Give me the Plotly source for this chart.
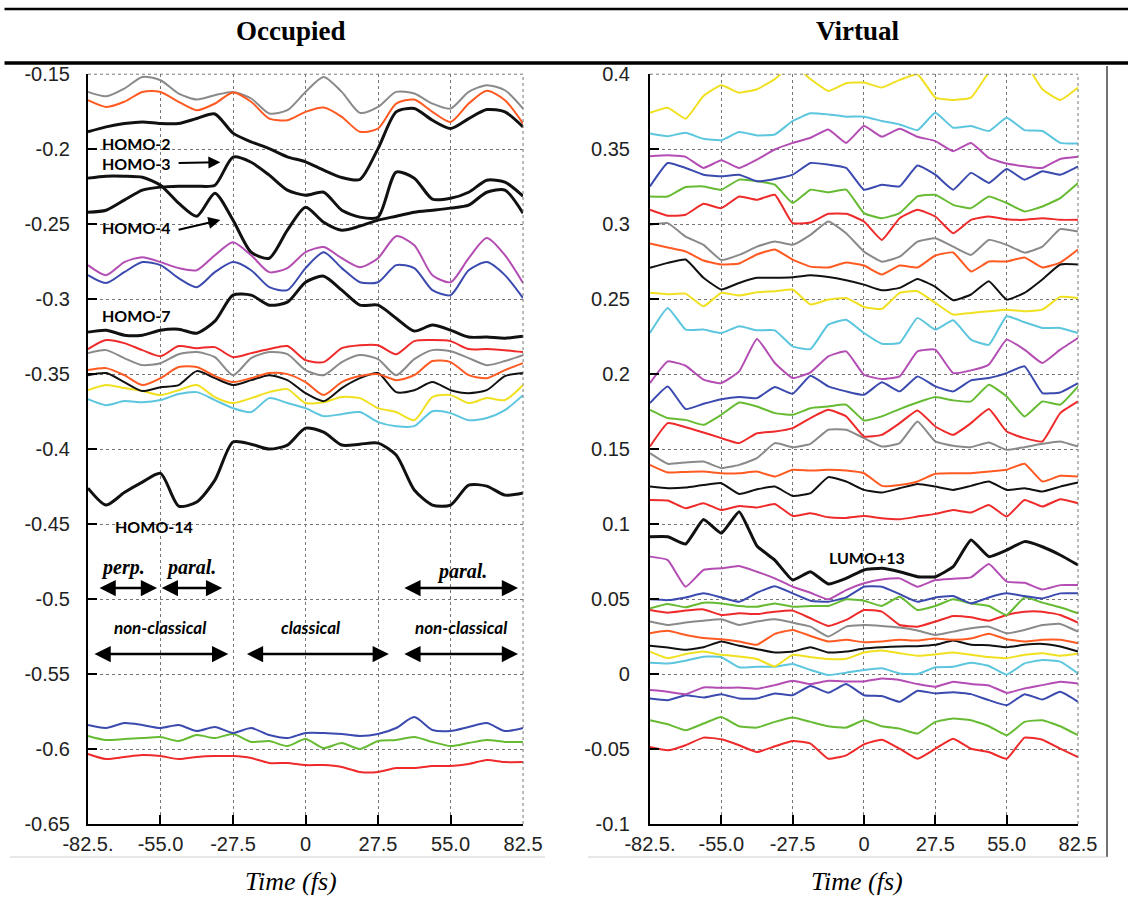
import plotly.graph_objects as go

# ---------------- data ----------------
TIME = [-82.5, -75.625, -68.75, -61.875, -55.0, -48.125, -41.25, -34.375, -27.5, -20.625,
        -13.75, -6.875, 0.0, 6.875, 13.75, 20.625, 27.5, 34.375, 41.25, 48.125,
        55.0, 61.875, 68.75, 75.625, 82.5]
X_TICKVALS = [-82.5, -55.0, -27.5, 0, 27.5, 55.0, 82.5]
X_TICKTEXT = ["-82.5.", "-55.0", "-27.5", "0", "27.5", "55.0", "82.5"]
OCC_TICKVALS = [-0.65, -0.6, -0.55, -0.5, -0.45, -0.4, -0.35, -0.3, -0.25, -0.2, -0.15]
OCC_TICKTEXT = ["-0.65", "-0.6", "-0.55", "-0.5", "-0.45", "-0.4", "-0.35", "-0.3", "-0.25", "-0.2", "-0.15"]
VIR_TICKVALS = [-0.1, -0.05, 0, 0.05, 0.1, 0.15, 0.2, 0.25, 0.3, 0.35, 0.4]
VIR_TICKTEXT = ["-0.1", "-0.05", "0", "0.05", "0.1", "0.15", "0.2", "0.25", "0.3", "0.35", "0.4"]

# Occupied orbitals (hartree)
occ_gray = [-0.1618,-0.1647,-0.1596,-0.1518,-0.1540,-0.1629,-0.1669,-0.1640,-0.1618,-0.1662,-0.1762,-0.1740,-0.1618,-0.1518,-0.1618,-0.1758,-0.1718,-0.1618,-0.1629,-0.1696,-0.1729,-0.1618,-0.1573,-0.1607,-0.1729]
occ_orange_top = [-0.1673,-0.1718,-0.1684,-0.1618,-0.1618,-0.1684,-0.1740,-0.1696,-0.1622,-0.1684,-0.1796,-0.1807,-0.1751,-0.1722,-0.1784,-0.1884,-0.1862,-0.1696,-0.1669,-0.1751,-0.1818,-0.1696,-0.1611,-0.1673,-0.1829]
homo2 = [-0.1884,-0.1851,-0.1829,-0.1818,-0.1829,-0.1829,-0.1795,-0.1765,-0.1893,-0.1951,-0.1996,-0.2051,-0.2084,-0.2140,-0.2189,-0.2202,-0.1996,-0.1751,-0.1729,-0.1807,-0.1862,-0.1796,-0.1736,-0.1751,-0.1851]
homo3 = [-0.2420,-0.2407,-0.2340,-0.2273,-0.2253,-0.2247,-0.2247,-0.2240,-0.2053,-0.2087,-0.2173,-0.2273,-0.2307,-0.2287,-0.2407,-0.2453,-0.2453,-0.2153,-0.2193,-0.2333,-0.2327,-0.2287,-0.2207,-0.2220,-0.2313]
homo4 = [-0.2193,-0.2180,-0.2180,-0.2187,-0.2240,-0.2360,-0.2447,-0.2293,-0.2473,-0.2687,-0.2727,-0.2540,-0.2387,-0.2487,-0.2540,-0.2513,-0.2473,-0.2447,-0.2420,-0.2407,-0.2393,-0.2373,-0.2287,-0.2273,-0.2427]
occ_magenta = [-0.2773,-0.2840,-0.2753,-0.2720,-0.2753,-0.2793,-0.2807,-0.2707,-0.2620,-0.2707,-0.2820,-0.2793,-0.2687,-0.2653,-0.2727,-0.2787,-0.2727,-0.2580,-0.2640,-0.2840,-0.2887,-0.2727,-0.2593,-0.2707,-0.2893]
occ_blue = [-0.2840,-0.2893,-0.2820,-0.2753,-0.2773,-0.2860,-0.2920,-0.2820,-0.2753,-0.2807,-0.2920,-0.2940,-0.2793,-0.2687,-0.2793,-0.2887,-0.2887,-0.2773,-0.2793,-0.2940,-0.2973,-0.2807,-0.2753,-0.2840,-0.2993]
homo7 = [-0.3220,-0.3207,-0.3240,-0.3240,-0.3207,-0.3200,-0.3227,-0.3147,-0.2973,-0.2973,-0.3040,-0.3020,-0.2887,-0.2847,-0.2940,-0.3040,-0.3040,-0.3127,-0.3213,-0.3173,-0.3207,-0.3253,-0.3253,-0.3260,-0.3247]
occ_red = [-0.3333,-0.3273,-0.3293,-0.3340,-0.3380,-0.3313,-0.3327,-0.3320,-0.3387,-0.3360,-0.3333,-0.3313,-0.3407,-0.3420,-0.3327,-0.3307,-0.3307,-0.3367,-0.3280,-0.3273,-0.3280,-0.3333,-0.3333,-0.3340,-0.3353]
occ_gray2 = [-0.3360,-0.3340,-0.3393,-0.3440,-0.3427,-0.3367,-0.3353,-0.3387,-0.3507,-0.3393,-0.3353,-0.3367,-0.3473,-0.3507,-0.3420,-0.3373,-0.3400,-0.3507,-0.3400,-0.3340,-0.3347,-0.3393,-0.3440,-0.3413,-0.3373]
occ_orange = [-0.3473,-0.3460,-0.3507,-0.3573,-0.3527,-0.3453,-0.3453,-0.3513,-0.3553,-0.3527,-0.3493,-0.3500,-0.3553,-0.3640,-0.3553,-0.3513,-0.3500,-0.3540,-0.3507,-0.3413,-0.3420,-0.3507,-0.3527,-0.3473,-0.3427]
occ_black = [-0.3507,-0.3493,-0.3553,-0.3613,-0.3587,-0.3573,-0.3480,-0.3527,-0.3573,-0.3540,-0.3507,-0.3540,-0.3627,-0.3680,-0.3593,-0.3527,-0.3493,-0.3620,-0.3607,-0.3553,-0.3607,-0.3627,-0.3607,-0.3513,-0.3493]
occ_yellow = [-0.3607,-0.3573,-0.3593,-0.3613,-0.3640,-0.3607,-0.3573,-0.3653,-0.3693,-0.3660,-0.3620,-0.3600,-0.3693,-0.3687,-0.3653,-0.3660,-0.3727,-0.3753,-0.3807,-0.3653,-0.3640,-0.3693,-0.3660,-0.3673,-0.3573]
occ_cyan = [-0.3667,-0.3707,-0.3680,-0.3687,-0.3673,-0.3633,-0.3620,-0.3673,-0.3727,-0.3753,-0.3660,-0.3693,-0.3727,-0.3780,-0.3767,-0.3753,-0.3820,-0.3847,-0.3847,-0.3747,-0.3760,-0.3807,-0.3793,-0.3740,-0.3640]
homo14 = [-0.4260,-0.4373,-0.4290,-0.4220,-0.4162,-0.4380,-0.4353,-0.4207,-0.3953,-0.3967,-0.4000,-0.3973,-0.3860,-0.3887,-0.3973,-0.3967,-0.3960,-0.4040,-0.4273,-0.4373,-0.4373,-0.4240,-0.4247,-0.4307,-0.4293]
occ_blue_low = [-0.5840,-0.5860,-0.5827,-0.5840,-0.5860,-0.5840,-0.5880,-0.5853,-0.5893,-0.5860,-0.5907,-0.5927,-0.5893,-0.5893,-0.5900,-0.5913,-0.5900,-0.5860,-0.5787,-0.5873,-0.5880,-0.5853,-0.5827,-0.5880,-0.5860]
occ_green_low = [-0.5913,-0.5940,-0.5933,-0.5927,-0.5920,-0.5947,-0.5907,-0.5927,-0.5900,-0.5953,-0.5947,-0.5980,-0.5933,-0.5993,-0.5960,-0.6000,-0.5947,-0.5940,-0.5920,-0.5953,-0.5980,-0.5960,-0.5940,-0.5953,-0.5953]
occ_red_low = [-0.6033,-0.6067,-0.6053,-0.6040,-0.6047,-0.6067,-0.6053,-0.6047,-0.6047,-0.6060,-0.6093,-0.6093,-0.6107,-0.6107,-0.6120,-0.6153,-0.6153,-0.6127,-0.6127,-0.6113,-0.6113,-0.6100,-0.6073,-0.6087,-0.6087]

# Virtual orbitals (hartree)
vir_yellow_top = [0.3743,0.3777,0.3703,0.3855,0.3926,0.3877,0.3900,0.3967,0.4067,0.3967,0.3888,0.3940,0.3944,0.3911,0.3962,0.4000,0.3844,0.3828,0.3844,0.4011,0.4100,0.4078,0.3900,0.3828,0.3911]
vir_cyan_top = [0.3605,0.3587,0.3609,0.3569,0.3560,0.3614,0.3592,0.3598,0.3688,0.3739,0.3732,0.3717,0.3717,0.3688,0.3665,0.3627,0.3743,0.3643,0.3654,0.3621,0.3710,0.3627,0.3621,0.3542,0.3538]
vir_magenta_top = [0.3453,0.3460,0.3449,0.3375,0.3426,0.3375,0.3431,0.3498,0.3542,0.3576,0.3632,0.3542,0.3654,0.3583,0.3636,0.3583,0.3554,0.3487,0.3542,0.3442,0.3404,0.3386,0.3375,0.3435,0.3449]
vir_blue_top = [0.3252,0.3408,0.3375,0.3330,0.3319,0.3330,0.3286,0.3301,0.3330,0.3408,0.3397,0.3375,0.3230,0.3263,0.3252,0.3391,0.3330,0.3230,0.3342,0.3275,0.3368,0.3297,0.3353,0.3330,0.3386]
vir_green_top = [0.3185,0.3185,0.3248,0.3252,0.3230,0.3297,0.3286,0.3263,0.3141,0.3230,0.3212,0.3230,0.3074,0.3040,0.3074,0.3185,0.3196,0.3129,0.3107,0.3185,0.3141,0.3085,0.3118,0.3174,0.3275]
vir_red_top = [0.3096,0.3056,0.3063,0.3136,0.3107,0.3185,0.3163,0.3196,0.3007,0.3011,0.3069,0.3069,0.3018,0.2895,0.3040,0.3096,0.3051,0.2940,0.3029,0.3051,0.3033,0.3029,0.3040,0.3029,0.3029]
vir_gray_top = [0.2996,0.3007,0.2917,0.2862,0.2761,0.2795,0.2850,0.2884,0.2862,0.2929,0.3018,0.2940,0.2817,0.2750,0.2783,0.2884,0.2906,0.2850,0.2795,0.2895,0.2862,0.2810,0.2850,0.2967,0.2951]
vir_orange_top = [0.2871,0.2844,0.2818,0.2758,0.2731,0.2738,0.2798,0.2831,0.2764,0.2717,0.2711,0.2744,0.2724,0.2664,0.2724,0.2711,0.2791,0.2811,0.2684,0.2751,0.2751,0.2778,0.2711,0.2744,0.2831]
vir_black_top = [0.2709,0.2742,0.2764,0.2642,0.2564,0.2608,0.2642,0.2642,0.2646,0.2660,0.2648,0.2626,0.2597,0.2559,0.2575,0.2635,0.2582,0.2493,0.2531,0.2620,0.2497,0.2542,0.2631,0.2731,0.2731]
vir_yellow_mid = [0.2542,0.2533,0.2537,0.2452,0.2542,0.2524,0.2546,0.2553,0.2564,0.2464,0.2497,0.2508,0.2448,0.2435,0.2542,0.2553,0.2475,0.2397,0.2408,0.2419,0.2430,0.2419,0.2430,0.2515,0.2508]
vir_cyan_mid = [0.2274,0.2441,0.2297,0.2297,0.2274,0.2319,0.2292,0.2292,0.2185,0.2167,0.2330,0.2363,0.2274,0.2203,0.2208,0.2375,0.2297,0.2359,0.2230,0.2196,0.2386,0.2346,0.2308,0.2308,0.2274]
vir_magenta_mid = [0.1940,0.2085,0.2056,0.1963,0.1940,0.2018,0.2234,0.2074,0.1974,0.2012,0.2118,0.2152,0.1996,0.1967,0.1985,0.2152,0.2163,0.2007,0.2025,0.2063,0.2230,0.2163,0.2074,0.2163,0.2241]
vir_blue_mid = [0.1807,0.1918,0.1767,0.1802,0.1833,0.1847,0.1840,0.1914,0.1869,0.1989,0.1918,0.1885,0.1862,0.1945,0.1885,0.1985,0.1918,0.1885,0.1958,0.1974,0.2007,0.2052,0.1874,0.1878,0.1940]
vir_green_mid = [0.1762,0.1707,0.1695,0.1662,0.1729,0.1811,0.1784,0.1740,0.1729,0.1773,0.1784,0.1796,0.1691,0.1718,0.1767,0.1811,0.1847,0.1825,0.1818,0.1929,0.1851,0.1718,0.1818,0.1796,0.1918]
vir_red_mid = [0.1517,0.1673,0.1646,0.1611,0.1573,0.1540,0.1606,0.1617,0.1640,0.1707,0.1762,0.1718,0.1584,0.1595,0.1673,0.1758,0.1651,0.1595,0.1673,0.1767,0.1617,0.1573,0.1551,0.1740,0.1818]
vir_gray_mid = [0.1473,0.1402,0.1411,0.1417,0.1373,0.1395,0.1440,0.1540,0.1513,0.1535,0.1629,0.1629,0.1573,0.1517,0.1540,0.1684,0.1551,0.1522,0.1513,0.1544,0.1495,0.1513,0.1535,0.1551,0.1517]
vir_orange_mid = [0.1395,0.1344,0.1348,0.1350,0.1339,0.1339,0.1350,0.1317,0.1362,0.1357,0.1362,0.1357,0.1339,0.1255,0.1261,0.1284,0.1335,0.1339,0.1339,0.1350,0.1362,0.1402,0.1284,0.1322,0.1317]
vir_black_mid = [0.1250,0.1239,0.1244,0.1261,0.1273,0.1201,0.1232,0.1250,0.1188,0.1206,0.1313,0.1284,0.1228,0.1210,0.1239,0.1268,0.1250,0.1228,0.1255,0.1284,0.1228,0.1239,0.1217,0.1250,0.1277]
vir_red_low1 = [0.1161,0.1157,0.1106,0.1139,0.1094,0.1121,0.1110,0.1134,0.1054,0.1072,0.1045,0.1041,0.1054,0.1039,0.1032,0.1050,0.1068,0.1094,0.1077,0.1128,0.1050,0.1161,0.1117,0.1166,0.1139]
lumo13 = [0.0916,0.0916,0.0867,0.1030,0.0939,0.1083,0.0854,0.0760,0.0627,0.0682,0.0600,0.0638,0.0694,0.0705,0.0682,0.0649,0.0649,0.0716,0.0894,0.0783,0.0827,0.0883,0.0849,0.0794,0.0727]
vir_magenta_low = [0.0783,0.0760,0.0582,0.0694,0.0705,0.0720,0.0682,0.0638,0.0582,0.0542,0.0498,0.0560,0.0605,0.0631,0.0638,0.0582,0.0627,0.0636,0.0645,0.0734,0.0616,0.0609,0.0564,0.0593,0.0593]
vir_blue_low = [0.0498,0.0493,0.0511,0.0538,0.0511,0.0482,0.0542,0.0586,0.0538,0.0489,0.0482,0.0511,0.0582,0.0582,0.0533,0.0482,0.0511,0.0520,0.0471,0.0511,0.0538,0.0520,0.0504,0.0538,0.0538]
vir_green_low = [0.0438,0.0467,0.0445,0.0476,0.0471,0.0454,0.0449,0.0471,0.0449,0.0454,0.0454,0.0498,0.0489,0.0454,0.0515,0.0427,0.0454,0.0498,0.0471,0.0454,0.0394,0.0511,0.0476,0.0445,0.0405]
vir_red_low2 = [0.0427,0.0409,0.0423,0.0431,0.0394,0.0405,0.0400,0.0416,0.0423,0.0372,0.0321,0.0361,0.0427,0.0416,0.0327,0.0316,0.0350,0.0387,0.0378,0.0356,0.0394,0.0416,0.0416,0.0394,0.0343]
vir_gray_low = [0.0350,0.0327,0.0343,0.0356,0.0365,0.0327,0.0350,0.0365,0.0343,0.0316,0.0250,0.0316,0.0327,0.0321,0.0310,0.0290,0.0261,0.0283,0.0305,0.0316,0.0272,0.0294,0.0327,0.0334,0.0283]
vir_orange_low = [0.0272,0.0288,0.0261,0.0241,0.0232,0.0217,0.0195,0.0268,0.0294,0.0254,0.0217,0.0228,0.0212,0.0217,0.0228,0.0223,0.0237,0.0228,0.0237,0.0268,0.0232,0.0217,0.0228,0.0228,0.0206]
vir_black_low = [0.0188,0.0177,0.0162,0.0179,0.0217,0.0188,0.0166,0.0144,0.0150,0.0179,0.0144,0.0150,0.0170,0.0179,0.0184,0.0186,0.0195,0.0223,0.0195,0.0192,0.0179,0.0195,0.0201,0.0184,0.0150]
vir_yellow_low = [0.0150,0.0106,0.0133,0.0150,0.0128,0.0117,0.0100,0.0051,0.0128,0.0113,0.0100,0.0102,0.0144,0.0157,0.0139,0.0122,0.0131,0.0144,0.0128,0.0113,0.0106,0.0128,0.0139,0.0122,0.0135]
vir_cyan_low = [0.0076,0.0071,0.0089,0.0116,0.0112,0.0045,0.0049,0.0049,0.0067,0.0027,-0.0007,0.0009,0.0027,0.0038,0.0004,0.0000,0.0045,0.0049,0.0076,0.0054,-0.0004,0.0071,0.0094,0.0083,0.0004]
vir_magenta_neg = [-0.0107,-0.0118,-0.0134,-0.0089,-0.0092,-0.0089,-0.0098,-0.0074,-0.0045,-0.0067,-0.0045,-0.0049,-0.0049,-0.0029,-0.0040,-0.0067,-0.0085,-0.0051,-0.0067,-0.0076,-0.0125,-0.0096,-0.0074,-0.0051,-0.0063]
vir_blue_neg = [-0.0163,-0.0174,-0.0141,-0.0156,-0.0134,-0.0163,-0.0163,-0.0129,-0.0141,-0.0080,-0.0125,-0.0067,-0.0141,-0.0147,-0.0185,-0.0112,-0.0129,-0.0121,-0.0134,-0.0174,-0.0208,-0.0134,-0.0170,-0.0118,-0.0185]
vir_green_neg = [-0.0308,-0.0335,-0.0375,-0.0330,-0.0286,-0.0348,-0.0357,-0.0319,-0.0290,-0.0319,-0.0348,-0.0357,-0.0308,-0.0348,-0.0364,-0.0397,-0.0319,-0.0297,-0.0308,-0.0348,-0.0408,-0.0319,-0.0308,-0.0348,-0.0408]
vir_red_neg = [-0.0487,-0.0509,-0.0475,-0.0424,-0.0435,-0.0475,-0.0520,-0.0482,-0.0446,-0.0464,-0.0565,-0.0542,-0.0469,-0.0438,-0.0498,-0.0565,-0.0498,-0.0431,-0.0498,-0.0520,-0.0565,-0.0424,-0.0438,-0.0498,-0.0554]

# ---------------- styles ----------------
GRAY = "#8a8a8a"
ORANGE = "#ff5a22"
RED = "#ee2a2a"
MAGENTA = "#b34db3"
BLUE = "#3b4aae"
GREEN = "#66bb33"
YELLOW = "#f0e020"
CYAN = "#5cc6de"
BLACK = "#111111"

occupied = [
    (occ_red_low, RED, 2), (occ_green_low, GREEN, 2), (occ_blue_low, BLUE, 2),
    (occ_cyan, CYAN, 2), (occ_yellow, YELLOW, 2), (occ_black, BLACK, 2),
    (occ_orange, ORANGE, 2), (occ_gray2, GRAY, 2), (occ_red, RED, 2),
    (occ_blue, BLUE, 2), (occ_magenta, MAGENTA, 2),
    (occ_gray, GRAY, 2), (occ_orange_top, ORANGE, 2),
    (homo14, BLACK, 3), (homo7, BLACK, 3), (homo4, BLACK, 3), (homo3, BLACK, 3), (homo2, BLACK, 3),
]
virtual = [
    (vir_red_neg, RED, 2), (vir_green_neg, GREEN, 2), (vir_blue_neg, BLUE, 2), (vir_magenta_neg, MAGENTA, 2),
    (vir_cyan_low, CYAN, 2), (vir_yellow_low, YELLOW, 2), (vir_black_low, BLACK, 2), (vir_orange_low, ORANGE, 2),
    (vir_gray_low, GRAY, 2), (vir_red_low2, RED, 2), (vir_green_low, GREEN, 2), (vir_blue_low, BLUE, 2),
    (vir_magenta_low, MAGENTA, 2), (vir_red_low1, RED, 2), (vir_black_mid, BLACK, 2),
    (vir_orange_mid, ORANGE, 2), (vir_gray_mid, GRAY, 2), (vir_red_mid, RED, 2), (vir_green_mid, GREEN, 2),
    (vir_blue_mid, BLUE, 2), (vir_magenta_mid, MAGENTA, 2), (vir_cyan_mid, CYAN, 2), (vir_yellow_mid, YELLOW, 2),
    (vir_black_top, BLACK, 2), (vir_orange_top, ORANGE, 2), (vir_gray_top, GRAY, 2), (vir_red_top, RED, 2),
    (vir_green_top, GREEN, 2), (vir_blue_top, BLUE, 2), (vir_magenta_top, MAGENTA, 2), (vir_cyan_top, CYAN, 2),
    (vir_yellow_top, YELLOW, 2), (lumo13, BLACK, 3),
]

fig = go.Figure()
for vals, col, w in occupied:
    fig.add_trace(go.Scatter(x=TIME, y=vals, mode="lines",
                             line=dict(color=col, width=w, shape="spline", smoothing=0.7),
                             xaxis="x", yaxis="y", showlegend=False, hoverinfo="skip"))
for vals, col, w in virtual:
    fig.add_trace(go.Scatter(x=TIME, y=vals, mode="lines",
                             line=dict(color=col, width=w, shape="spline", smoothing=0.4),
                             xaxis="x2", yaxis="y2", showlegend=False, hoverinfo="skip"))

TICKFONT = dict(family="Liberation Sans Narrow, Liberation Sans, Arial", size=20, color="#222")
common_x = dict(range=[-82.5, 82.5], tickvals=X_TICKVALS, ticktext=X_TICKTEXT, showline=True,
                linecolor="black", linewidth=2, ticks="inside", ticklen=9, tickwidth=2, tickcolor="black",
                showgrid=True, gridcolor="#777", griddash="dot", gridwidth=1, zeroline=False,
                tickfont=TICKFONT, ticklabelstandoff=1, fixedrange=True, automargin=False)
common_y = dict(showline=True, linecolor="black", linewidth=2, ticks="inside", ticklen=9, tickwidth=2,
                tickcolor="black", showgrid=True, gridcolor="#777", griddash="dot", gridwidth=1,
                zeroline=False, tickfont=TICKFONT, fixedrange=True, automargin=False)

YD = [0.0895, 0.918]
fig.update_layout(
    width=1128, height=905, margin=dict(l=0, r=0, t=0, b=0, pad=0, autoexpand=False),
    paper_bgcolor="white", plot_bgcolor="white", showlegend=False,
    xaxis=dict(domain=[0.078, 0.4637], anchor="y", **common_x),
    yaxis=dict(domain=YD, anchor="x", range=[-0.65, -0.15], tickvals=OCC_TICKVALS,
               ticktext=OCC_TICKTEXT, ticklabelstandoff=12, **common_y),
    xaxis2=dict(domain=[0.5762, 0.9557], anchor="y2", **common_x),
    yaxis2=dict(domain=YD, anchor="x2", range=[-0.1, 0.4], tickvals=VIR_TICKVALS,
                ticktext=VIR_TICKTEXT, ticklabelstandoff=14, **common_y),
)

shapes = []
# dotted top and right borders of each plot area
for xr, yr in (("x", "y"), ("x2", "y2")):
    shapes.append(dict(type="line", xref=f"{xr} domain", yref=f"{yr} domain", x0=0, x1=1, y0=1, y1=1,
                       line=dict(color="#777", width=1, dash="dot")))
    shapes.append(dict(type="line", xref=f"{xr} domain", yref=f"{yr} domain", x0=1, x1=1, y0=0, y1=1,
                       line=dict(color="#777", width=1, dash="dot")))
# table rules of the header
shapes.append(dict(type="line", xref="paper", yref="paper", x0=0.004, x1=1, y0=1 - 9 / 905, y1=1 - 9 / 905,
                   line=dict(color="black", width=2.5)))
shapes.append(dict(type="line", xref="paper", yref="paper", x0=0.004, x1=1, y0=1 - 63 / 905, y1=1 - 63 / 905,
                   line=dict(color="black", width=3.5)))
# faint frame of the panel pictures
shapes.append(dict(type="line", xref="paper", yref="paper", x0=1107 / 1128, x1=1107 / 1128,
                   y0=1 - 857 / 905, y1=1 - 66 / 905, line=dict(color="#444", width=1.5)))
shapes.append(dict(type="line", xref="paper", yref="paper", x0=10 / 1128, x1=545 / 1128,
                   y0=1 - 857 / 905, y1=1 - 857 / 905, line=dict(color="#d0d0d0", width=1)))
shapes.append(dict(type="line", xref="paper", yref="paper", x0=588 / 1128, x1=1107 / 1128,
                   y0=1 - 857 / 905, y1=1 - 857 / 905, line=dict(color="#d0d0d0", width=1)))
fig.update_layout(shapes=shapes)

ann = []
SERIF = "Liberation Serif, Times New Roman, serif"
C = dict(xanchor="center", yanchor="middle", showarrow=False)
ann.append(dict(xref="paper", yref="paper", x=291 / 1128, y=1 - 31 / 905, text="<b>Occupied</b>",
                font=dict(family=SERIF, size=27, color="black"), **C))
ann.append(dict(xref="paper", yref="paper", x=857 / 1128, y=1 - 31 / 905, text="<b>Virtual</b>",
                font=dict(family=SERIF, size=27, color="black"), **C))
ann.append(dict(xref="paper", yref="paper", x=291 / 1128, y=1 - 881 / 905, text="<i>Time (fs)</i>",
                font=dict(family=SERIF, size=26, color="black"), **C))
ann.append(dict(xref="paper", yref="paper", x=857 / 1128, y=1 - 881 / 905, text="<i>Time (fs)</i>",
                font=dict(family=SERIF, size=26, color="black"), **C))

LBL = dict(family="Lato, Open Sans, sans-serif", size=16, color="black")
for txt, xx, yy in (("HOMO-2", -78.0, -0.196), ("HOMO-3", -78.0, -0.2093), ("HOMO-4", -78.0, -0.252),
                    ("HOMO-7", -78.0, -0.3107), ("HOMO-14", -73.0, -0.4513)):
    ann.append(dict(xref="x", yref="y", x=xx, y=yy, text=f"<b>{txt}</b>", showarrow=False,
                    xanchor="left", yanchor="middle", font=LBL))
ann.append(dict(xref="x2", yref="y2", x=1.0, y=0.0774, text="<b>LUMO+13</b>", font=LBL, **C))

# single-headed arrows for HOMO-3 and HOMO-4
for (x0, y0, x1, y1) in ((-48.7, -0.2093, -32.3, -0.2087), (-48.7, -0.2540, -32.3, -0.2473)):
    ann.append(dict(xref="x", yref="y", axref="x", ayref="y", x=x1, y=y1, ax=x0, ay=y0, text="",
                    showarrow=True, arrowhead=2, arrowsize=1.2, arrowwidth=2, arrowcolor="black",
                    standoff=0, startstandoff=0))

# regime labels and double arrows
REG1 = dict(family=SERIF, size=20, color="black")
REG2 = dict(family="Lato, Open Sans, sans-serif", size=17, color="black")
for txt, xx, yy, f in (("<b><i>perp.</i></b>", -69.2, -0.4787, REG1),
                       ("<b><i>paral.</i></b>", -43.3, -0.4787, REG1),
                       ("<b><i>paral.</i></b>", 59.3, -0.4813, REG1),
                       ("<b><i>non-classical</i></b>", -55.1, -0.5187, REG2),
                       ("<b><i>classical</i></b>", 1.9, -0.5187, REG2),
                       ("<b><i>non-classical</i></b>", 58.9, -0.5187, REG2)):
    ann.append(dict(xref="x", yref="y", x=xx, y=yy, text=txt, font=f, **C))

for (x0, x1, yy) in ((-78.7, -56.3, -0.4927), (-55.1, -31.6, -0.4927), (36.9, 80.6, -0.4927),
                     (-80.6, -29.3, -0.5367), (-22.8, 31.6, -0.5367), (36.9, 80.6, -0.5367)):
    ann.append(dict(xref="x", yref="y", axref="x", ayref="y", x=x1, y=yy, ax=x0, ay=yy, text="",
                    showarrow=True, arrowhead=2, arrowside="end+start", arrowsize=1.3, arrowwidth=2.5,
                    arrowcolor="black", standoff=0, startstandoff=0))

fig.update_layout(annotations=ann)
fig.write_html("out.html")
